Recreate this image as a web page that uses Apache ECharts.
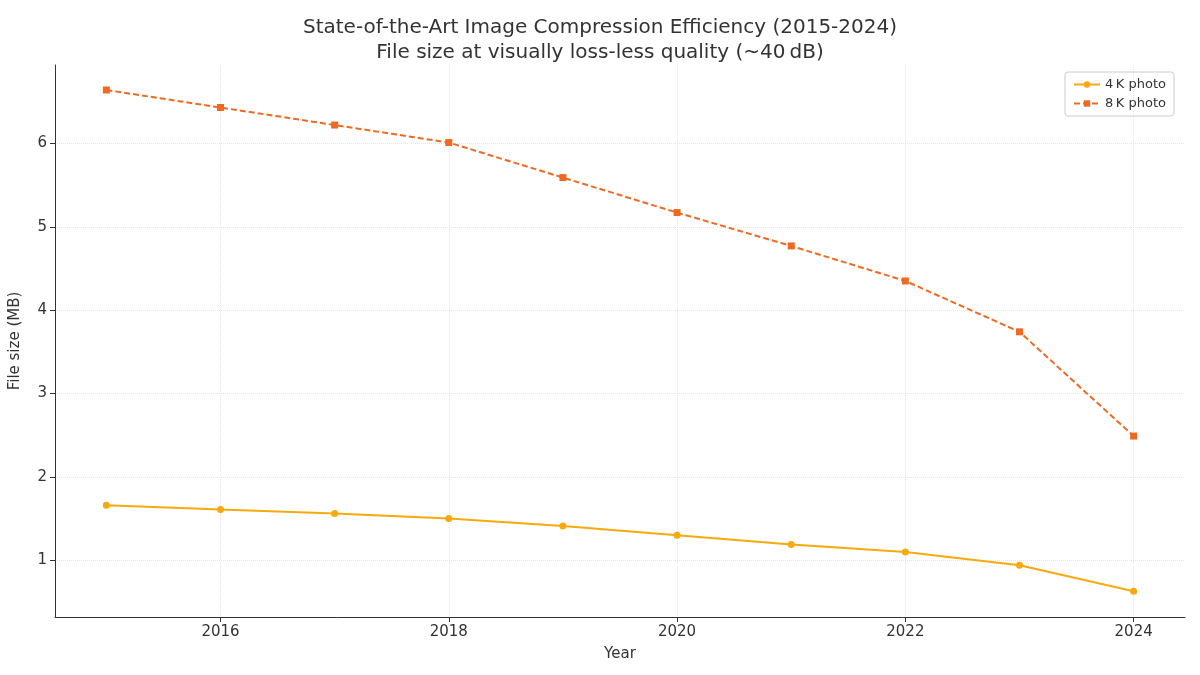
<!DOCTYPE html>
<html>
<head>
<meta charset="utf-8">
<script src="https://cdn.jsdelivr.net/npm/echarts@6/dist/echarts.min.js"></script>
<style>html,body{margin:0;padding:0;background:#fff}#chart{width:1200px;height:675px}</style>
</head>
<body>
<div id="chart"></div>
<script>
// values
const years = [2015, 2016, 2017, 2018, 2019, 2020, 2021, 2022, 2023, 2024]
const photo4k = [1.66, 1.61, 1.56, 1.50, 1.41, 1.30, 1.19, 1.10, 0.94, 0.63]
const photo8k = [6.64, 6.43, 6.22, 6.01, 5.59, 5.17, 4.77, 4.35, 3.74, 2.49]
const xTicks = [2016, 2018, 2020, 2022, 2024]
const yTicks = [1, 2, 3, 4, 5, 6]

const font = 'DejaVu Sans'
const pairs = (ys) => years.map((y, i) => [y, ys[i]])

const myChart = echarts.init(document.getElementById('chart'))
myChart.setOption({
  animation: false,
  textStyle: { fontFamily: font },
  title: {
    text: 'State-of-the-Art Image Compression Efficiency (2015-2024)\nFile size at visually loss-less quality (~40\u2009dB)',
    left: 'center',
    top: 10,
    textStyle: { fontSize: 20, fontWeight: 'normal', color: '#333', lineHeight: 25, fontFamily: font }
  },
  legend: {
    right: 26,
    top: 72,
    orient: 'vertical',
    itemGap: 6,
    itemWidth: 26,
    itemHeight: 8,
    padding: [6, 8],
    borderColor: '#ccc',
    borderWidth: 1,
    borderRadius: 3,
    textStyle: { fontSize: 13, color: '#333' }
  },
  grid: { left: 53, right: 15, top: 65, bottom: 58 },
  xAxis: {
    type: 'value',
    min: 2014.55,
    max: 2024.45,
    name: 'Year',
    nameLocation: 'middle',
    nameGap: 30,
    nameTextStyle: { fontSize: 15, color: '#333' },
    axisLine: { lineStyle: { color: '#333' } },
    axisTick: { show: true, customValues: xTicks, lineStyle: { color: '#333' } },
    axisLabel: { customValues: xTicks, fontSize: 15, color: '#333', formatter: v => String(v) },
    splitLine: { show: true, lineStyle: { color: '#e6e6e6', type: 'dotted' } }
  },
  yAxis: {
    type: 'value',
    min: 0.32,
    max: 6.94,
    name: 'File size (MB)',
    nameLocation: 'middle',
    nameGap: 32,
    nameTextStyle: { fontSize: 15, color: '#333' },
    axisLine: { show: true, lineStyle: { color: '#333' } },
    axisTick: { show: true, customValues: yTicks, lineStyle: { color: '#333' } },
    axisLabel: { customValues: yTicks, fontSize: 15, color: '#333' },
    splitLine: { show: true, lineStyle: { color: '#e6e6e6', type: 'dotted' } }
  },
  series: [
    {
      name: '4\u2009K photo',
      type: 'line',
      data: pairs(photo4k),
      symbol: 'circle',
      symbolSize: 7,
      color: '#f7a90e',
      lineStyle: { width: 2 }
    },
    {
      name: '8\u2009K photo',
      type: 'line',
      data: pairs(photo8k),
      symbol: 'rect',
      symbolSize: 7,
      color: '#ee6a22',
      lineStyle: { width: 2, type: [6, 3] }
    }
  ]
})
</script>
</body>
</html>
